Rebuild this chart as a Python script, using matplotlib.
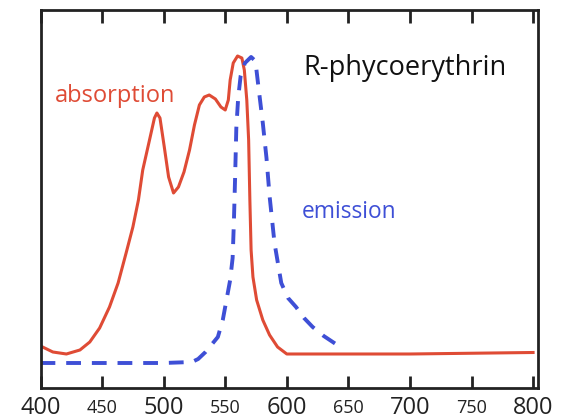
import matplotlib.pyplot as plt
import numpy as np

plt.rcParams['font.family'] = ['Open Sans', 'DejaVu Sans']

# Relative intensity (arbitrary units, peak ~ 1)
abs_nm = [400, 410, 421, 432, 440, 448, 456, 463, 469.5, 475, 479.5, 483, 488.5,
          492.5, 494.5, 497, 500.5, 504, 508, 512, 516.5, 521, 525, 529, 533,
          537, 542, 546.5, 550, 552.5, 554, 556.5, 560, 563.5, 565.5, 567.5,
          569, 570, 571, 572.5, 575.5, 580.5, 586, 592.5, 600, 700, 800]
abs_val = [42, 36, 34, 38, 46, 60, 81, 105, 135, 161, 188, 218, 248,
           270, 275, 270, 241, 211, 195, 201, 216, 238, 263, 283, 291,
           293, 289, 281, 278, 288, 308, 325, 332, 330, 318, 288,
           248, 188, 138, 111, 88, 68, 53, 41, 34, 34, 35.5]

em_nm = [400, 450, 500, 523, 528, 534, 540, 544, 548, 551, 554, 556, 557, 558,
         559, 560.5, 562.5, 566, 571, 574.5, 576.5, 580.5, 583.5, 586, 590,
         595.5, 601, 607.5, 614, 621, 630, 641]
em_val = [25, 25, 25, 26, 29, 36, 45, 51, 68, 88, 108, 130, 165, 210,
          260, 290, 312, 325, 331, 327, 306, 265, 230, 192, 145,
          105, 90, 81, 70, 61, 52, 43]

ticks = [400, 450, 500, 550, 600, 650, 700, 750, 800]

abs_val = np.array(abs_val) / 331.0
em_val = np.array(em_val) / 331.0

fig = plt.figure(figsize=(5.63, 4.2), dpi=100)
ax = fig.add_axes([0.072, 0.0762, 0.8836, 0.9])

red = '#DF4B35'
blue = '#3E4FD6'
ax.plot(abs_nm, abs_val, color=red, lw=2.2, solid_joinstyle='round')
ax.plot(em_nm, em_val, color=blue, lw=2.8, dashes=(3.8, 2.8))

ax.set_xlim(400, 804)
ax.set_ylim(0, 378 / 331.0)

ax.set_xticks(ticks)
ax.set_xticklabels([str(t) for t in ticks])
ax.set_yticks([])
ax.tick_params(axis='x', direction='in', top=True, length=9, width=2,
               color='#222222', pad=14.5, labelcolor='#222222')
for lab, t in zip(ax.get_xticklabels(), ticks):
    lab.set_verticalalignment('center')
    lab.set_fontsize(17 if t % 100 == 0 else 13)

for s in ax.spines.values():
    s.set_linewidth(2)
    s.set_color('#222222')

ax.text(0.528, 0.828, 'R-phycoerythrin', transform=ax.transAxes,
        fontsize=19.5, color='#111111', va='baseline', ha='left')
ax.text(0.029, 0.757, 'absorption', transform=ax.transAxes,
        fontsize=17, color=red, va='baseline', ha='left')
ax.text(0.525, 0.45, 'emission', transform=ax.transAxes,
        fontsize=16.4, color=blue, va='baseline', ha='left')

plt.savefig('out.png', dpi=100)
